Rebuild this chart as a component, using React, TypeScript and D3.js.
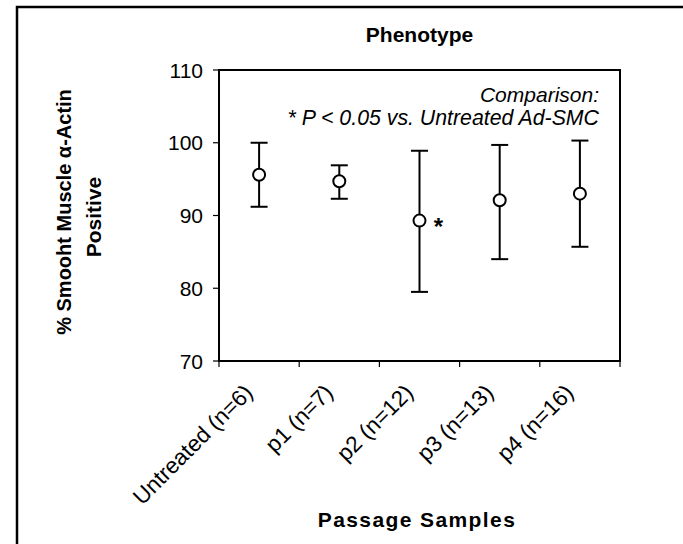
import React from "react";
import * as d3 from "d3";

const categories = ["Untreated (n=6)", "p1 (n=7)", "p2 (n=12)", "p3 (n=13)", "p4 (n=16)"];
const means = [95.6, 94.7, 89.3, 92.1, 93.0];
const upper = [100.0, 96.9, 98.9, 99.7, 100.3];
const lower = [91.2, 92.3, 79.5, 84.0, 85.7];
const significant = [false, false, true, false, false];
const yTicks = [70, 80, 90, 100, 110];

const W = 683;
const H = 544;
const FONT = "'Liberation Sans', Arial, sans-serif";

export default function App() {
  const x = d3.scaleBand<string>().domain(categories).range([219, 620]).padding(0);
  const y = d3.scaleLinear().domain([70, 110]).range([361, 70]);
  const bw = x.bandwidth();
  const [x0, x1] = x.range();
  const [yb, yt] = y.range();
  const boundaries = categories.map((c) => x(c)!).concat([x1]);

  return (
    <svg
      width={W}
      height={H}
      style={{ position: "absolute", left: 0, top: 0, background: "#fff" }}
      fontFamily={FONT}
    >
      <rect x={0} y={0} width={W} height={H} fill="#fff" />
      {/* outer chart border (extends beyond view) */}
      <rect x={17} y={7} width={W + 50} height={H + 50} fill="none" stroke="#000" strokeWidth={2.5} />

      {/* title */}
      <text x={(x0 + x1) / 2} y={42} textAnchor="middle" fontSize={21} fontWeight="bold">
        Phenotype
      </text>

      {/* plot area frame */}
      <rect x={x0} y={yt} width={x1 - x0} height={yb - yt} fill="none" stroke="#000" strokeWidth={2} />

      {/* y ticks */}
      {yTicks.map((t) => (
        <g key={t}>
          <line x1={x0 - 6} x2={x0} y1={y(t)} y2={y(t)} stroke="#000" strokeWidth={1.2} />
          <text x={203} y={y(t)} dy="0.36em" textAnchor="end" fontSize={21}>
            {t}
          </text>
        </g>
      ))}

      {/* x ticks */}
      {boundaries.map((b, i) => (
        <line key={i} x1={b} x2={b} y1={yb} y2={yb + 6} stroke="#000" strokeWidth={1.2} />
      ))}

      {/* x labels */}
      {categories.map((c) => {
        const cx = x(c)! + bw / 2 - 5;
        const cy = 394;
        return (
          <text
            key={c}
            x={cx}
            y={cy}
            textAnchor="end"
            fontSize={22.5}
            transform={`rotate(-45 ${cx} ${cy})`}
          >
            {c}
          </text>
        );
      })}

      {/* x axis title */}
      <text x={417} y={527} textAnchor="middle" fontSize={21} fontWeight="bold" letterSpacing={1.4}>
        Passage Samples
      </text>

      {/* y axis title */}
      <text
        x={71}
        y={212}
        textAnchor="middle"
        fontSize={20}
        fontWeight="bold"
        transform="rotate(-90 71 212)"
      >
        % Smooht Muscle  α-Actin
      </text>
      <text
        x={101}
        y={217}
        textAnchor="middle"
        fontSize={21}
        fontWeight="bold"
        transform="rotate(-90 101 217)"
      >
        Positive
      </text>

      {/* comparison note */}
      <text x={599} y={102} textAnchor="end" fontSize={21} fontStyle="italic">
        Comparison:
      </text>
      <text x={599} y={125} textAnchor="end" fontSize={21.3} fontStyle="italic">
        * P &lt; 0.05 vs. Untreated Ad-SMC
      </text>

      {/* error bars and points */}
      {categories.map((c, i) => {
        const cx = x(c)! + bw / 2;
        return (
          <g key={c}>
            <line x1={cx} x2={cx} y1={y(upper[i])} y2={y(lower[i])} stroke="#000" strokeWidth={2} />
            <line x1={cx - 8.5} x2={cx + 8.5} y1={y(upper[i])} y2={y(upper[i])} stroke="#000" strokeWidth={2} />
            <line x1={cx - 8.5} x2={cx + 8.5} y1={y(lower[i])} y2={y(lower[i])} stroke="#000" strokeWidth={2} />
            <circle cx={cx} cy={y(means[i])} r={6} fill="#fff" stroke="#000" strokeWidth={2} />
            {significant[i] && (
              <text x={cx + 19} y={y(means[i]) + 14} textAnchor="middle" fontSize={24} fontWeight="bold">
                *
              </text>
            )}
          </g>
        );
      })}
    </svg>
  );
}
